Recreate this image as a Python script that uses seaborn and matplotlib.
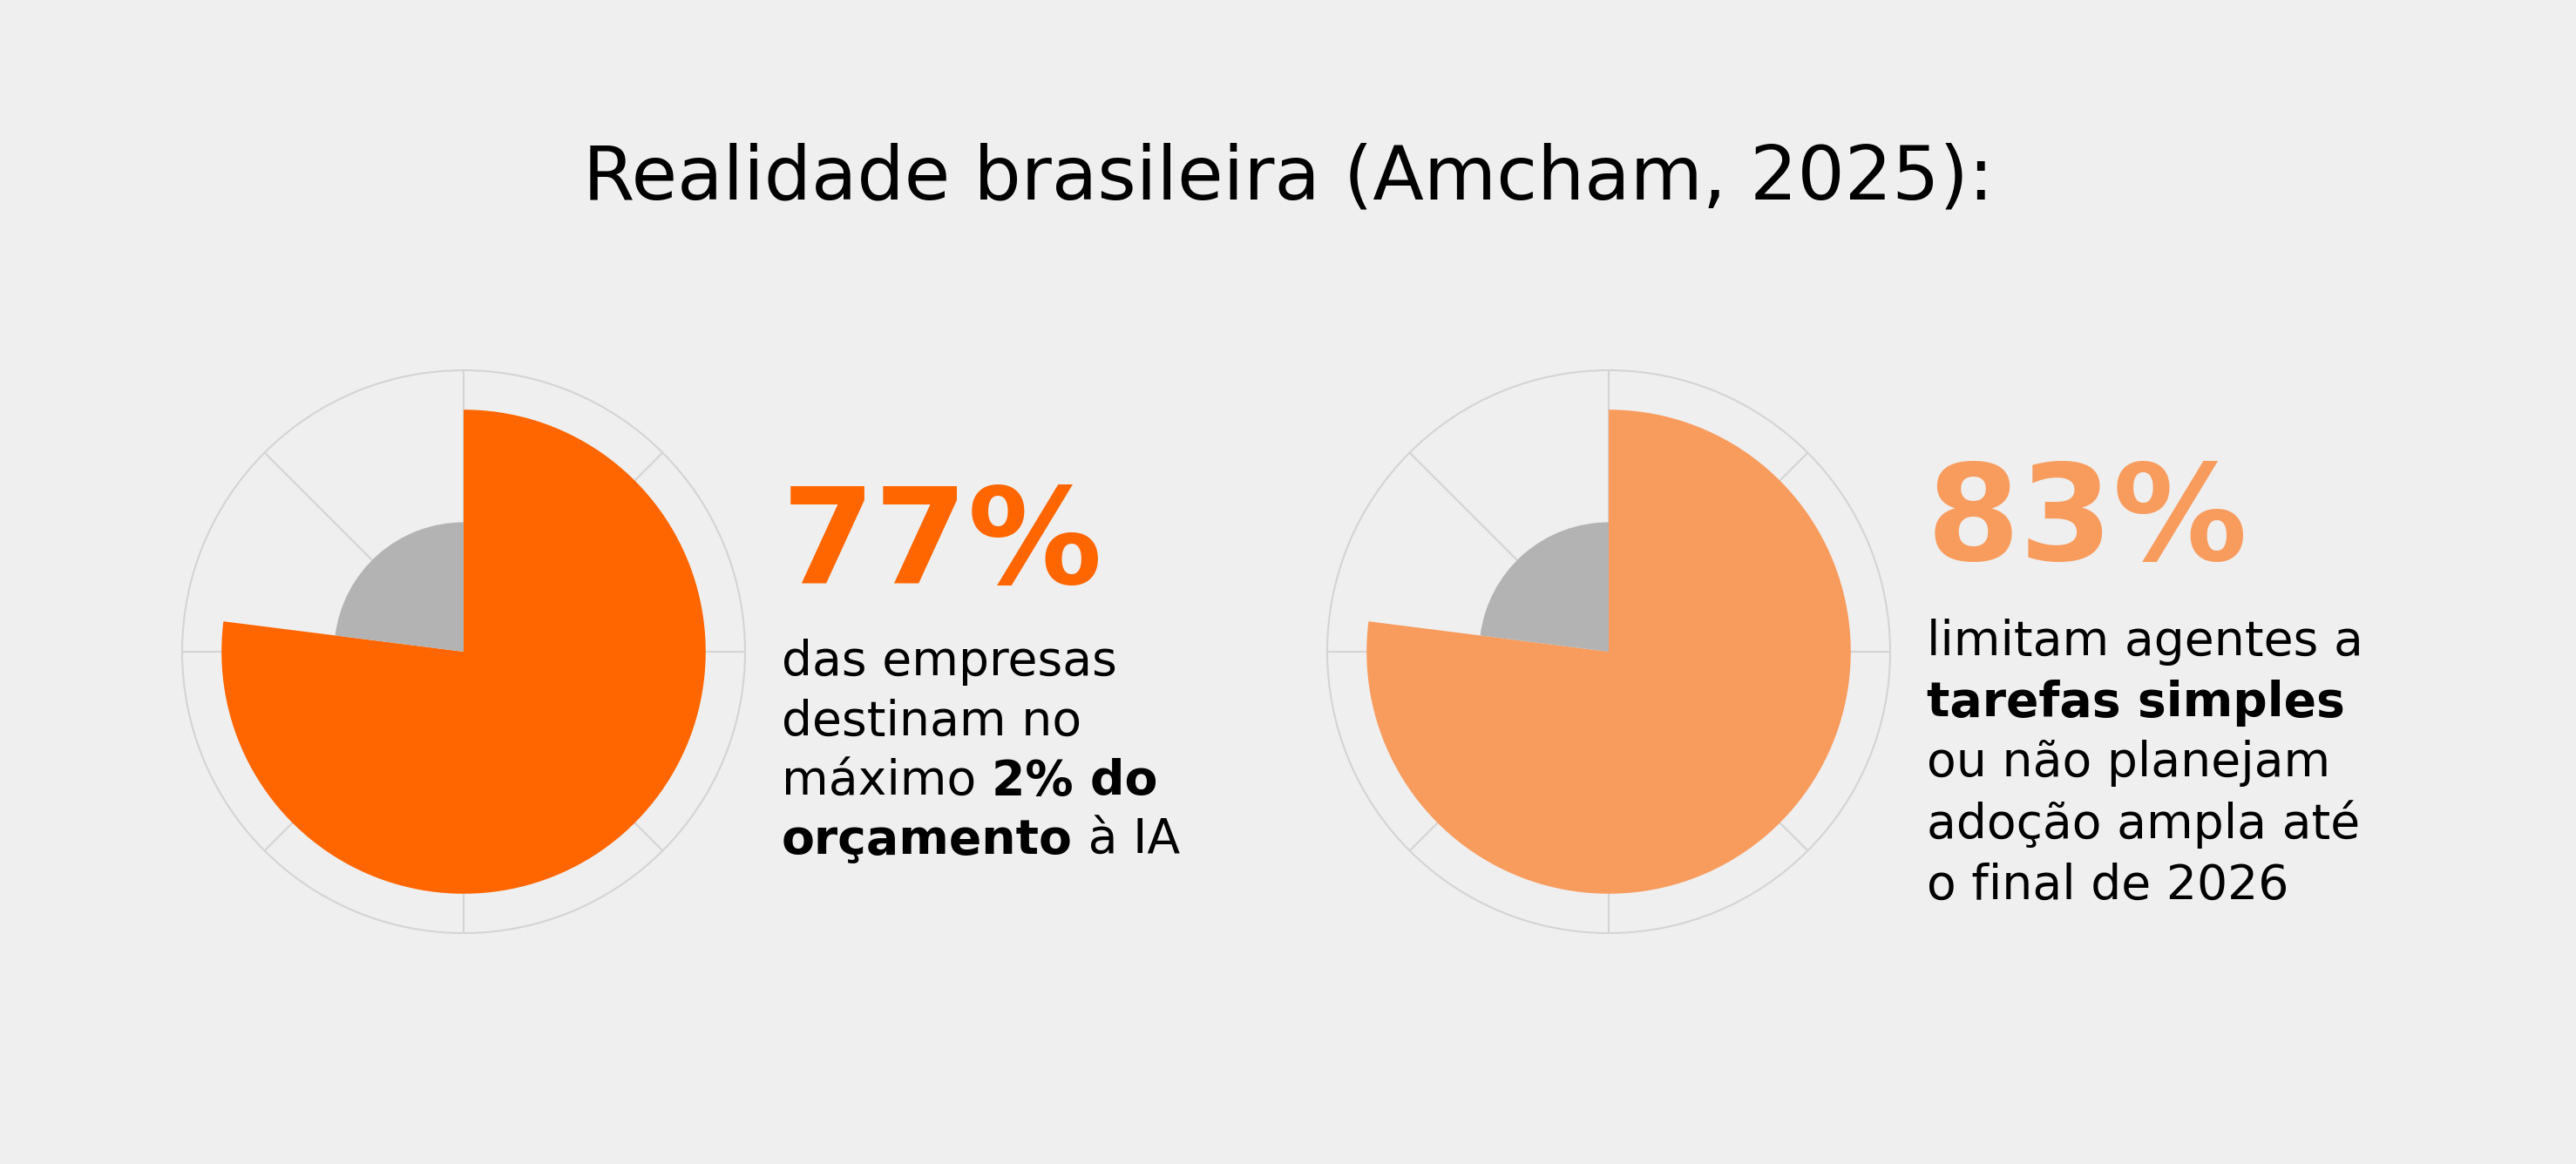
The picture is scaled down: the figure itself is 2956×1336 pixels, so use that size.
import numpy as np
import matplotlib
matplotlib.use("Agg")
import matplotlib.pyplot as plt
import seaborn as sns

# ---------------- data ----------------
title = "Realidade brasileira (Amcham, 2025):"
categories = ["dentro", "fora"]
left_share = [77, 23]
left_radius = [0.86, 0.46]
right_share = [77, 23]
right_radius = [0.86, 0.46]
left_value_label = "77%"
right_value_label = "83%"
left_caption = [
    [("das empresas", False)],
    [("destinam no", False)],
    [("máximo ", False), ("2% do", True)],
    [("orçamento", True), (" à IA", False)],
]
right_caption = [
    [("limitam agentes a", False)],
    [("tarefas simples", True)],
    [("ou não planejam", False)],
    [("adoção ampla até", False)],
    [("o final de 2026", False)],
]

# ---------------- style ----------------
W, H, DPI = 2956, 1336, 200
BG = "#EFEFEF"
ORANGE = "#FF6600"
ORANGE_LIGHT = "#F89C5E"
GRAY = "#B3B3B3"
GRID = "#D4D4D4"
TEXT = "#000000"
FONT = "DejaVu Sans"

sns.set_theme(style="white", rc={"figure.facecolor": BG, "axes.facecolor": BG})
plt.rcParams["font.family"] = [FONT]

fig = plt.figure(figsize=(W / DPI, H / DPI), dpi=DPI)
fig.patch.set_facecolor(BG)


def fx(px):
    return px / W


def fy(py):
    return 1 - py / H


def draw_polar(cx, cy, r, shares, radii, colors):
    ax = fig.add_axes([fx(cx - r), fy(cy + r), 2 * r / W, 2 * r / H], projection="polar")
    ax.set_facecolor("none")
    ax.set_theta_zero_location("N")
    ax.set_theta_direction(-1)
    s = np.asarray(shares, dtype=float) / 100.0
    starts = np.concatenate([[0.0], np.cumsum(s)[:-1]]) * 2 * np.pi
    widths = s * 2 * np.pi
    ax.bar(starts, radii, width=widths, align="edge", color=colors,
           linewidth=0, zorder=2, antialiased=True)
    ax.set_ylim(0, 1)
    ax.set_xticks(np.deg2rad(np.arange(0, 360, 45)))
    ax.set_xticklabels([])
    ax.set_yticks([])
    ax.grid(True, color=GRID, linewidth=0.75)
    ax.set_axisbelow(True)
    ax.spines["polar"].set_color(GRID)
    ax.spines["polar"].set_linewidth(0.75)
    return ax


draw_polar(532, 748, 323, left_share, left_radius, [ORANGE, GRAY])
draw_polar(1846, 748, 323, right_share, right_radius, [ORANGE_LIGHT, GRAY])

# title
fig.text(0.5, fy(229), title, ha="center", va="baseline", fontsize=30.8,
         color=TEXT)

# big numbers
fig.text(fx(897), fy(670), left_value_label, ha="left", va="baseline",
         fontsize=55.5, fontweight="heavy", color=ORANGE)
fig.text(fx(2211), fy(643), right_value_label, ha="left", va="baseline",
         fontsize=55.5, fontweight="heavy", color=ORANGE_LIGHT)

fig.canvas.draw()
renderer = fig.canvas.get_renderer()


def rich_lines(x0, baselines, lines, size=19.9):
    for base, segs in zip(baselines, lines):
        x = x0
        for txt, bold in segs:
            t = fig.text(fx(x), fy(base), txt, ha="left", va="baseline",
                         fontsize=size, fontweight="bold" if bold else "normal",
                         color=TEXT)
            bb = t.get_window_extent(renderer=renderer)
            x += bb.width


rich_lines(897, [775, 843.6, 912.5, 980], left_caption)
rich_lines(2211, [752, 822, 891, 962, 1032], right_caption)

fig.savefig("out.png", dpi=DPI, facecolor=BG)
